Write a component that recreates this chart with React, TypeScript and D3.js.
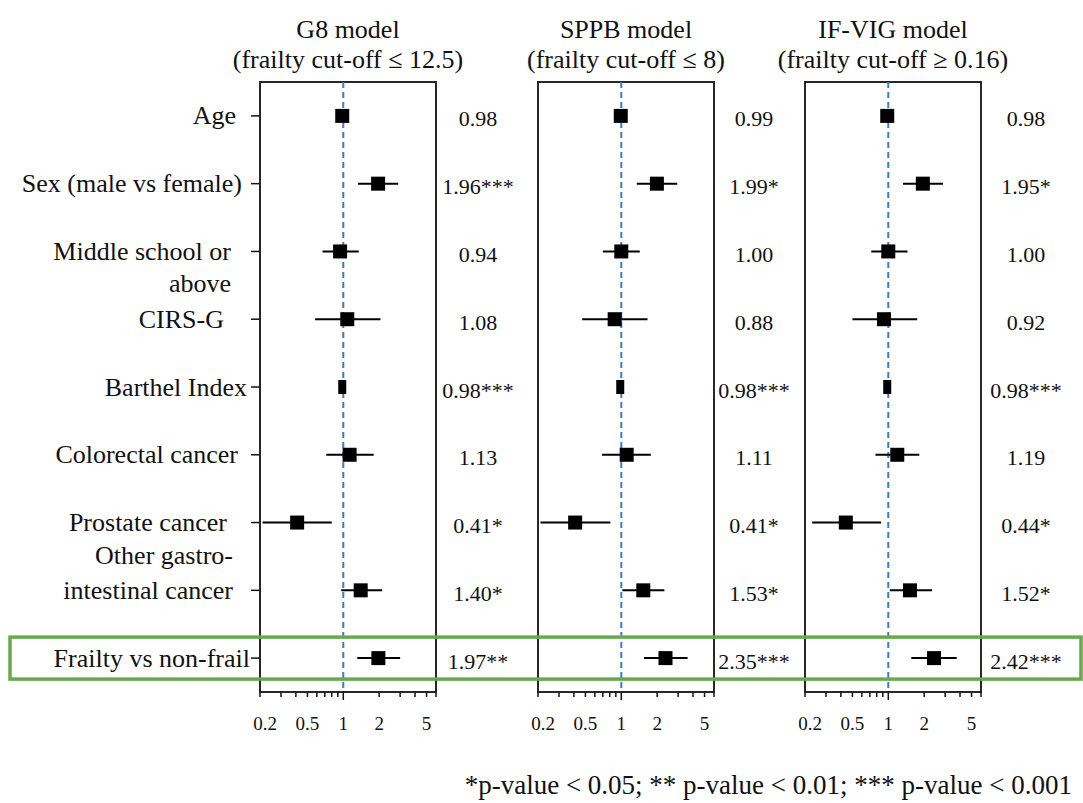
import React from "react";
import * as d3 from "d3";

// ---------- data ----------
const rowLabels: string[][] = [
  ["Age"],
  ["Sex (male vs female)"],
  ["Middle school or", "above"],
  ["CIRS-G"],
  ["Barthel Index"],
  ["Colorectal cancer"],
  ["Prostate cancer"],
  ["Other gastro-", "intestinal cancer"],
  ["Frailty vs non-frail"],
];

const modelTitles = ["G8 model", "SPPB model", "IF-VIG model"];
const modelSubtitles = [
  "(frailty cut-off \u2264 12.5)",
  "(frailty cut-off \u2264 8)",
  "(frailty cut-off \u2265 0.16)",
];

const g8OR = [0.98, 1.96, 0.94, 1.08, 0.98, 1.13, 0.41, 1.4, 1.97];
const g8Lo = [0.96, 1.33, 0.67, 0.58, 0.97, 0.72, 0.21, 0.96, 1.31];
const g8Hi = [1.0, 2.89, 1.35, 2.05, 0.99, 1.8, 0.8, 2.12, 3.0];
const g8Sig = ["", "***", "", "", "***", "", "*", "*", "**"];

const sppbOR = [0.99, 1.99, 1.0, 0.88, 0.98, 1.11, 0.41, 1.53, 2.35];
const sppbLo = [0.97, 1.35, 0.7, 0.47, 0.97, 0.69, 0.21, 1.02, 1.55];
const sppbHi = [1.01, 2.95, 1.43, 1.66, 0.99, 1.77, 0.81, 2.3, 3.6];
const sppbSig = ["", "*", "", "", "***", "", "*", "*", "***"];

const ifvigOR = [0.98, 1.95, 1.0, 0.92, 0.98, 1.19, 0.44, 1.52, 2.42];
const ifvigLo = [0.96, 1.33, 0.72, 0.5, 0.97, 0.78, 0.23, 1.03, 1.56];
const ifvigHi = [1.0, 2.88, 1.45, 1.75, 0.99, 1.82, 0.87, 2.33, 3.75];
const ifvigSig = ["", "*", "", "", "***", "", "*", "*", "***"];

const axisDomain = [0.2, 6];
const tickValues = [0.2, 0.3, 0.4, 0.5, 0.6, 0.7, 0.8, 0.9, 1, 2, 3, 4, 5, 6];
const tickLabels = [0.2, 0.5, 1, 2, 5];

const footnote = "*p-value < 0.05; ** p-value < 0.01; *** p-value < 0.001";

// ---------- layout ----------
const W = 1083;
const H = 803;
const FONT = "'Liberation Serif', 'Times New Roman', Times, serif";
const panelLefts = [260, 538, 805];
const panelW = 176;
const boxTop = 82;
const boxBottom = 692;
const labelEnds = [236, 242, 231, 224, 247, 238, 227, 233, 250];
const labelLineOffsets = [[0], [0], [0, 32], [0], [0], [0], [0], [-35, 0], [0]];
const valueCenterGap = [42, 40, 45];
const narrowRow = 4;

const models = [
  { or: g8OR, lo: g8Lo, hi: g8Hi, sig: g8Sig },
  { or: sppbOR, lo: sppbLo, hi: sppbHi, sig: sppbSig },
  { or: ifvigOR, lo: ifvigLo, hi: ifvigHi, sig: ifvigSig },
];

export default function App() {
  const y = d3
    .scaleBand<number>()
    .domain(d3.range(rowLabels.length))
    .range([boxTop, boxBottom]);
  const yc = (i: number) => (y(i) as number) + y.bandwidth() / 2;

  return (
    <svg
      width={W}
      height={H}
      style={{ position: "absolute", left: 0, top: 0, background: "#fff" }}
      fontFamily={FONT}
    >
      <rect x={0} y={0} width={W} height={H} fill="#fff" />
      {/* row labels */}
      {rowLabels.map((lines, i) => (
        <g key={"lab" + i}>
          {lines.map((ln, j) => (
            <text
              key={j}
              x={labelEnds[i]}
              y={yc(i) + labelLineOffsets[i][j]}
              textAnchor="end"
              dominantBaseline="central"
              fontSize={26}
              fill="#111"
            >
              {ln}
            </text>
          ))}
          <line
            x1={panelLefts[0] - 9}
            x2={panelLefts[0]}
            y1={yc(i)}
            y2={yc(i)}
            stroke="#111"
            strokeWidth={1.5}
          />
        </g>
      ))}

      {models.map((m, k) => {
        const left = panelLefts[k];
        const x = d3.scaleLog().domain(axisDomain).range([left, left + panelW]);
        const cx = left + panelW / 2;
        const clip = (v: number) => Math.max(left, Math.min(left + panelW, x(v)));
        return (
          <g key={"p" + k}>
            <text x={cx} y={38} textAnchor="middle" fontSize={26} fill="#111">
              {modelTitles[k]}
            </text>
            <text x={cx} y={68} textAnchor="middle" fontSize={26} fill="#111">
              {modelSubtitles[k]}
            </text>
            <rect
              x={left}
              y={boxTop}
              width={panelW}
              height={boxBottom - boxTop}
              fill="none"
              stroke="#111"
              strokeWidth={1.8}
            />
            <line
              x1={x(1)}
              x2={x(1)}
              y1={boxTop}
              y2={boxBottom}
              stroke="#3b7dc4"
              strokeWidth={2}
              strokeDasharray="6,4"
            />
            {/* axis ticks */}
            {tickValues.map((t) => (
              <line
                key={"t" + t}
                x1={x(t)}
                x2={x(t)}
                y1={boxBottom}
                y2={boxBottom + (t === 1 ? 8 : 5)}
                stroke="#111"
                strokeWidth={1.5}
              />
            ))}
            {tickLabels.map((t) => (
              <text
                key={"tl" + t}
                x={x(t) + (t === 0.2 ? 5 : 0)}
                y={723}
                textAnchor="middle"
                dominantBaseline="central"
                fontSize={19}
                fill="#111"
              >
                {String(t)}
              </text>
            ))}
            {/* estimates */}
            {m.or.map((v, i) => {
              const w = i === narrowRow ? 8 : 14;
              return (
                <g key={"e" + i}>
                  <line
                    x1={clip(m.lo[i])}
                    x2={clip(m.hi[i])}
                    y1={yc(i)}
                    y2={yc(i)}
                    stroke="#000"
                    strokeWidth={2}
                  />
                  <rect
                    x={x(v) - w / 2}
                    y={yc(i) - 7}
                    width={w}
                    height={14}
                    fill="#000"
                  />
                  <text
                    x={left + panelW + valueCenterGap[k]}
                    y={yc(i) + 3}
                    textAnchor="middle"
                    dominantBaseline="central"
                    fontSize={22}
                    fill="#111"
                  >
                    {v.toFixed(2) + m.sig[i]}
                  </text>
                </g>
              );
            })}
          </g>
        );
      })}

      {/* highlight box for frailty row */}
      <rect
        x={10}
        y={yc(8) - 21}
        width={1071}
        height={42}
        fill="none"
        stroke="#6aa84f"
        strokeWidth={3.5}
      />

      <text x={1072} y={785} textAnchor="end" dominantBaseline="central" fontSize={27} fill="#111">
        {footnote}
      </text>
    </svg>
  );
}
